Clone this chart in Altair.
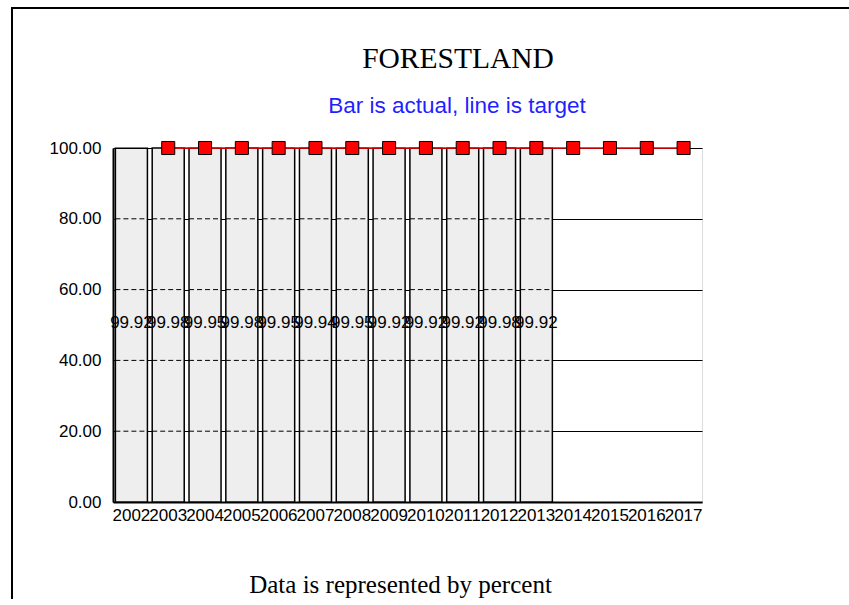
import altair as alt
import pandas as pd

# Categories on the x axis
years = ["2002", "2003", "2004", "2005", "2006", "2007", "2008", "2009",
         "2010", "2011", "2012", "2013", "2014", "2015", "2016", "2017"]

# Actual values (bars)
actual_years = ["2002", "2003", "2004", "2005", "2006", "2007",
                "2008", "2009", "2010", "2011", "2012", "2013"]
actual_values = [99.92, 99.98, 99.95, 99.98, 99.95, 99.94,
                 99.95, 99.92, 99.92, 99.92, 99.98, 99.92]

# Target values (line with square markers)
target_years = ["2003", "2004", "2005", "2006", "2007", "2008", "2009", "2010",
                "2011", "2012", "2013", "2014", "2015", "2016", "2017"]
target_values = [100, 100, 100, 100, 100, 100, 100, 100,
                 100, 100, 100, 100, 100, 100, 100]

grid_values = [20, 40, 60, 80]
y_ticks = [0, 20, 40, 60, 80, 100]

title_text = "FORESTLAND"
subtitle_text = "Bar is actual, line is target"

actual_df = pd.DataFrame({"year": actual_years, "value": actual_values})
target_df = pd.DataFrame({"year": target_years, "value": target_values})
grid_df = pd.DataFrame(
    [{"year": y, "g": g} for y in actual_years for g in grid_values]
)

SANS = "Liberation Sans"
SERIF = "Liberation Serif"

x_scale = alt.Scale(domain=years, paddingInner=0.13, paddingOuter=0.065)
y_scale = alt.Scale(domain=[0, 100], nice=False, zero=True)

x_axis = alt.Axis(
    labelAngle=0, labelFont=SANS, labelFontSize=17, labelColor="black",
    labelPadding=5, ticks=False, domainColor="black", domainWidth=2,
    grid=False, labelOverlap=False,
    title="Data is represented by percent", titleFont=SERIF,
    titleFontSize=25, titleFontWeight="normal", titleColor="black",
    titlePadding=49, titleX=287,
)
y_axis = alt.Axis(
    values=y_ticks, format=".2f", labelFont=SANS, labelFontSize=17,
    labelColor="black", labelPadding=12, ticks=False,
    domainColor="black", domainWidth=2, grid=True, gridColor="black",
    gridOpacity=1, gridWidth=1, title=None,
)

# Outer frame of the figure: left and top edges (the rest runs off the page)
frame_left = alt.Chart(alt.Data(values=[{}])).mark_rule(
    color="black", strokeWidth=2
).encode(x=alt.value(-101), y=alt.value(-141), y2=alt.value(1000))

frame_top = alt.Chart(alt.Data(values=[{}])).mark_rule(
    color="black", strokeWidth=2
).encode(x=alt.value(-102), x2=alt.value(1000), y=alt.value(-140))

# Heading and sub-heading above the plot
heading = alt.Chart(alt.Data(values=[{"t": title_text}])).mark_text(
    font=SERIF, fontSize=29.5, color="black", align="center",
    baseline="alphabetic"
).encode(x=alt.value(345), y=alt.value(-80), text="t:N")

subheading = alt.Chart(alt.Data(values=[{"t": subtitle_text}])).mark_text(
    font=SANS, fontSize=22.5, color="#1f1fff", align="center",
    baseline="alphabetic"
).encode(x=alt.value(344), y=alt.value(-35), text="t:N")

bars = alt.Chart(actual_df).mark_bar(
    fill="#eeeeee", stroke="black", strokeWidth=1.5
).encode(
    x=alt.X("year:N", scale=x_scale, axis=x_axis, sort=years),
    y=alt.Y("value:Q", scale=y_scale, axis=y_axis),
)

# Grid lines seen through the bars, drawn dashed
grid_over_bars = alt.Chart(grid_df).mark_rule(
    color="black", strokeWidth=1, strokeDash=[5, 3]
).encode(
    x=alt.X("year:N", bandPosition=0),
    x2=alt.X2("year", bandPosition=1),
    y=alt.Y("g:Q"),
)

labels = alt.Chart(actual_df).transform_calculate(
    mid="datum.value / 2"
).mark_text(
    font=SANS, fontSize=17, color="black", baseline="middle", dy=-2
).encode(
    x=alt.X("year:N"),
    y=alt.Y("mid:Q"),
    text=alt.Text("value:Q", format=".2f"),
)

line = alt.Chart(target_df).mark_line(
    color="#ff0000", strokeWidth=1.5, clip=False
).encode(
    x=alt.X("year:N"),
    y=alt.Y("value:Q"),
)

points = alt.Chart(target_df).mark_square(
    size=170, fill="#ff0000", stroke="black", strokeWidth=1,
    opacity=1, clip=False
).encode(
    x=alt.X("year:N"),
    y=alt.Y("value:Q"),
)

chart = alt.layer(
    frame_left, frame_top, heading, subheading,
    bars, grid_over_bars, labels, line, points
).properties(
    width=589,
    height=354,
    autosize=alt.AutoSizeParams(type="none"),
    padding={"left": 113, "top": 148, "right": 147, "bottom": 97},
).configure_view(
    stroke="black", strokeWidth=1.5
).configure(background="white")

chart.save("out.html", embed_options={"renderer": "svg", "actions": False})
